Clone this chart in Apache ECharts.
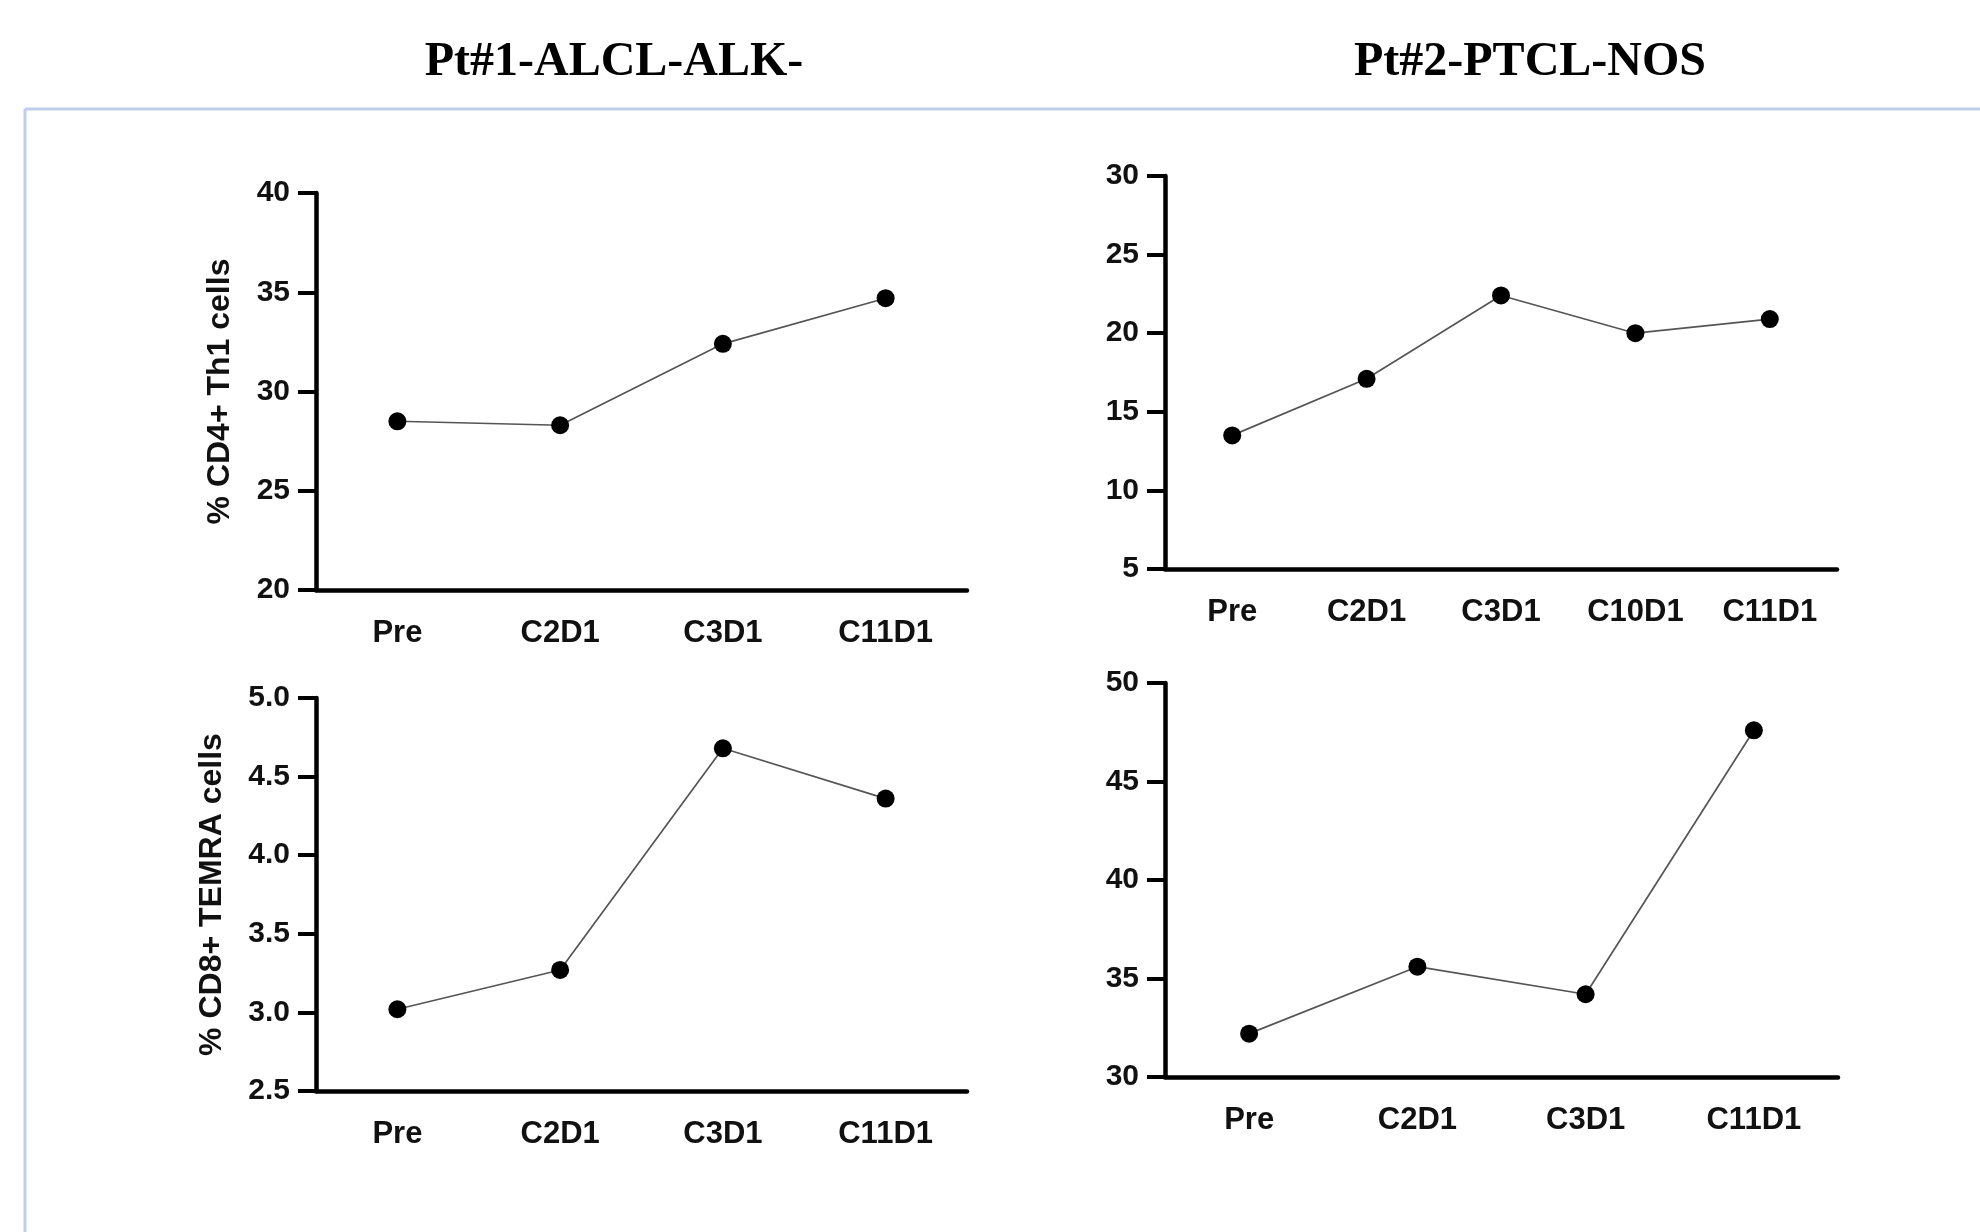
<!DOCTYPE html>
<html>
<head>
<meta charset="utf-8">
<title>Pt#1 / Pt#2</title>
<script src="https://cdn.jsdelivr.net/npm/echarts@6/dist/echarts.min.js"></script>
<style>
    html, body { margin: 0; padding: 0; background: #fff; }
    #chart { width: 1980px; height: 1232px; }
</style>
</head>
<body>
<div id="chart"></div>
<script>
// categories
const catsPt1 = ['Pre', 'C2D1', 'C3D1', 'C11D1']
const catsPt2Th1 = ['Pre', 'C2D1', 'C3D1', 'C10D1', 'C11D1']
const catsPt2Temra = ['Pre', 'C2D1', 'C3D1', 'C11D1']

// values (% of cells)
const pt1Th1 = [28.5, 28.3, 32.4, 34.7]
const pt2Th1 = [13.5, 17.1, 22.4, 20.0, 20.9]
const pt1Temra = [3.02, 3.27, 4.68, 4.36]
const pt2Temra = [32.2, 35.6, 34.2, 47.6]

// y ticks [min, max, step]
const ticksPt1Th1 = [20, 40, 5]
const ticksPt2Th1 = [5, 30, 5]
const ticksPt1Temra = [2.5, 5.0, 0.5]
const ticksPt2Temra = [30, 50, 5]

const sans = '"Liberation Sans", Arial, sans-serif'

function makeX(gridIndex, cats) {
    return {
        type: 'category',
        gridIndex: gridIndex,
        data: cats,
        boundaryGap: true,
        axisLine: { lineStyle: { color: '#000', width: 4.5 } },
        axisTick: { alignWithLabel: true, length: 16, lineStyle: { color: '#000', width: 4 } },
        axisLabel: { color: '#111', fontFamily: sans, fontWeight: 'bold', fontSize: 31, margin: 28 },
        splitLine: { show: false }
    }
}

function makeY(gridIndex, ticks, name, gap, digits) {
    return {
        type: 'value',
        gridIndex: gridIndex,
        min: ticks[0],
        max: ticks[1],
        interval: ticks[2],
        name: name,
        nameLocation: 'middle',
        nameRotate: 90,
        nameGap: gap,
        nameTextStyle: { color: '#111', fontFamily: sans, fontWeight: 'bold', fontSize: 32 },
        axisLine: { show: true, lineStyle: { color: '#000', width: 4.5 } },
        axisTick: { show: true, length: 18, lineStyle: { color: '#000', width: 4 } },
        axisLabel: {
            color: '#111', fontFamily: sans, fontWeight: 'bold', fontSize: 30, margin: 26,
            formatter: function (v) { return v.toFixed(digits) }
        },
        splitLine: { show: false }
    }
}

function makeLine(idx, values) {
    return {
        type: 'line',
        xAxisIndex: idx,
        yAxisIndex: idx,
        data: values,
        symbol: 'circle',
        symbolSize: 18,
        itemStyle: { color: '#000' },
        lineStyle: { color: '#555', width: 1.7 },
        z: 3
    }
}

const chart = echarts.init(document.getElementById('chart'))
chart.setOption({
    animation: false,
    backgroundColor: '#fff',
    graphic: [
        // light blue frame
        { type: 'line', shape: { x1: 25, y1: 109, x2: 1980, y2: 109 }, style: { stroke: '#bfcdeb', lineWidth: 3 } },
        { type: 'line', shape: { x1: 25, y1: 109, x2: 25, y2: 1232 }, style: { stroke: '#bfcdeb', lineWidth: 3 } },
        {
            type: 'text', x: 614, y: 63,
            style: { text: 'Pt#1-ALCL-ALK-', fill: '#000', font: 'bold 48px "Liberation Serif", "Times New Roman", serif', textAlign: 'center', textVerticalAlign: 'middle' }
        },
        {
            type: 'text', x: 1530, y: 63,
            style: { text: 'Pt#2-PTCL-NOS', fill: '#000', font: 'bold 48px "Liberation Serif", "Times New Roman", serif', textAlign: 'center', textVerticalAlign: 'middle' }
        }
    ],
    grid: [
        { left: 316, top: 193, width: 651, height: 397 },
        { left: 1165, top: 176, width: 672, height: 393 },
        { left: 316, top: 698, width: 651, height: 393 },
        { left: 1165, top: 683, width: 673, height: 394 }
    ],
    xAxis: [
        makeX(0, catsPt1),
        makeX(1, catsPt2Th1),
        makeX(2, catsPt1),
        makeX(3, catsPt2Temra)
    ],
    yAxis: [
        makeY(0, ticksPt1Th1, '% CD4+ Th1 cells', 80, 0),
        makeY(1, ticksPt2Th1, '', 60, 0),
        makeY(2, ticksPt1Temra, '% CD8+ TEMRA cells', 88, 1),
        makeY(3, ticksPt2Temra, '', 60, 0)
    ],
    series: [
        makeLine(0, pt1Th1),
        makeLine(1, pt2Th1),
        makeLine(2, pt1Temra),
        makeLine(3, pt2Temra)
    ]
})
</script>
</body>
</html>
